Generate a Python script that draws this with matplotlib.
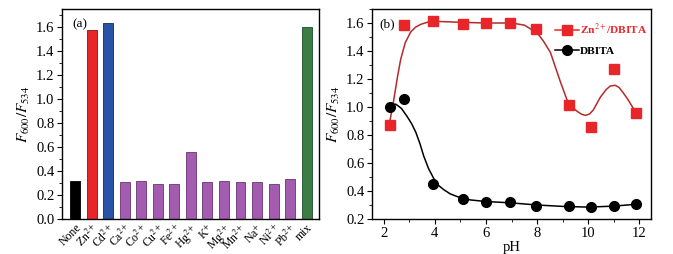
import numpy as np
import matplotlib.pyplot as plt
from matplotlib.ticker import MultipleLocator

plt.rcParams['font.family'] = ['Liberation Serif', 'DejaVu Serif']
plt.rcParams['mathtext.fontset'] = 'stix'

# (a) ratio for each ion
ions = ['None', 'Zn$^{2+}$', 'Cd$^{2+}$', 'Ca$^{2+}$', 'Co$^{2+}$', 'Cu$^{2+}$',
        'Fe$^{2+}$', 'Hg$^{2+}$', 'K$^{+}$', 'Mg$^{2+}$', 'Mn$^{2+}$', 'Na$^{+}$',
        'Ni$^{2+}$', 'Pb$^{2+}$', 'mix']
ratio = [0.32, 1.575, 1.63, 0.31, 0.32, 0.295, 0.295, 0.56, 0.305, 0.315,
         0.31, 0.31, 0.29, 0.335, 1.60]

# (b) ratio vs pH
ph = [2.25, 2.8, 3.95, 5.1, 6.0, 6.95, 7.95, 9.25, 10.1, 11.0, 11.85]
zn_dbita = [0.875, 1.585, 1.615, 1.595, 1.60, 1.60, 1.555, 1.015, 0.86, 1.27, 0.96]
dbita = [1.0, 1.06, 0.45, 0.345, 0.325, 0.32, 0.295, 0.295, 0.285, 0.295, 0.305]

# smooth fit lines
fit_ph_zn = [2.25, 2.4, 2.55, 2.67, 2.85, 3.06, 3.25, 3.45, 3.7, 4.0, 5.0, 6.0,
             7.0, 7.5, 8.0, 8.25, 8.52, 8.91, 9.17, 9.4, 9.56, 9.72, 9.88, 10.05,
             10.2, 10.47, 10.7, 10.86, 11.05, 11.2, 11.37, 11.56, 11.76, 11.85]
fit_zn = [0.90, 1.05, 1.22, 1.34, 1.46, 1.535, 1.57, 1.59, 1.605, 1.612, 1.605,
          1.60, 1.60, 1.585, 1.53, 1.47, 1.39, 1.18, 1.05, 0.995, 0.97, 0.95,
          0.94, 0.95, 0.98, 1.07, 1.125, 1.15, 1.155, 1.14, 1.10, 1.05, 0.99, 0.96]
fit_ph_db = [2.2, 2.35, 2.48, 2.7, 2.93, 3.1, 3.26, 3.42, 3.57, 3.76, 3.96,
             4.15, 4.35, 4.6, 4.88, 5.4, 6.0, 7.0, 8.0, 9.0, 10.0, 11.0, 11.85]
fit_db = [1.006, 1.018, 1.02, 0.99, 0.93, 0.88, 0.82, 0.74, 0.65, 0.56, 0.49,
          0.44, 0.41, 0.38, 0.36, 0.336, 0.325, 0.315, 0.30, 0.29, 0.285, 0.292,
          0.305]

bar_colors = ['#000000', '#e8262a', '#2a52a8'] + ['#a45cb0'] * 11 + ['#3b7d45']
edge_colors = ['#000000', '#8a1010', '#14285a'] + ['#6a3475'] * 11 + ['#1f4a26']

fig = plt.figure(figsize=(6.73, 2.54), dpi=100)
ax1 = fig.add_axes([62 / 673, 35 / 254, 257 / 673, 210 / 254])
ax2 = fig.add_axes([372 / 673, 35 / 254, 279 / 673, 210 / 254])

x = np.arange(len(ions))
ax1.bar(x, ratio, width=0.6, color=bar_colors, edgecolor=edge_colors, linewidth=0.6)
ax1.set_xlim(-0.8, 14.75)
ax1.set_ylim(0, 1.75)
ax1.set_xticks(x)
ax1.set_xticklabels(ions, rotation=45, ha='right', rotation_mode='anchor', fontsize=8.5)
ax1.tick_params(axis='x', length=0, pad=2)
ax1.yaxis.set_major_locator(MultipleLocator(0.2))
ax1.yaxis.set_minor_locator(MultipleLocator(0.1))
ax1.yaxis.set_major_formatter(plt.FormatStrFormatter('%.1f'))
ax1.tick_params(axis='y', which='major', direction='out', length=3.5, labelsize=10.5, pad=2)
ax1.tick_params(axis='y', which='minor', direction='out', length=2)
ax1.set_ylabel('$F_{600}/F_{534}$', fontsize=11, labelpad=3)
ax1.text(0.04, 0.955, '(a)', transform=ax1.transAxes, fontsize=9.5, va='top')

ax2.plot(fit_ph_zn, fit_zn, color='#b52a2a', linewidth=1.1, zorder=2)
ax2.plot(fit_ph_db, fit_db, color='#000000', linewidth=1.1, zorder=2)
ax2.plot(ph, zn_dbita, 's', color='#e8262a', markersize=7, zorder=3)
ax2.plot(ph, dbita, 'o', color='#000000', markersize=7, zorder=3)
ax2.set_xlim(1.55, 12.45)
ax2.set_ylim(0.2, 1.7)
ax2.xaxis.set_major_locator(MultipleLocator(2))
ax2.xaxis.set_minor_locator(MultipleLocator(1))
ax2.yaxis.set_major_locator(MultipleLocator(0.2))
ax2.yaxis.set_minor_locator(MultipleLocator(0.1))
ax2.yaxis.set_major_formatter(plt.FormatStrFormatter('%.1f'))
ax2.tick_params(which='major', direction='out', length=3.5, labelsize=10.5, pad=2)
ax2.tick_params(which='minor', direction='out', length=2)
ax2.set_xlabel('pH', fontsize=10.5, labelpad=1)
ax2.set_ylabel('$F_{600}/F_{534}$', fontsize=11, labelpad=3)
ax2.text(0.025, 0.955, '(b)', transform=ax2.transAxes, fontsize=9.5, va='top')

# legend drawn as in the original
h1, = ax2.plot([], [], 's-', color='#e8262a', markersize=7, linewidth=1.1)
h2, = ax2.plot([], [], 'o-', color='#000000', markersize=7, linewidth=1.1)
leg = ax2.legend([h1, h2], ['Zn$^{2+}$/DBITA', 'DBITA'], loc='upper left',
                 bbox_to_anchor=(0.655, 0.94), frameon=False, handlelength=2.1,
                 handletextpad=0.1, labelspacing=0.8, borderaxespad=0.0,
                 borderpad=0.0, prop={'weight': 'bold', 'size': 8.2})
leg.get_texts()[0].set_color('#e8262a')

for ax in (ax1, ax2):
    for s in ax.spines.values():
        s.set_linewidth(1.0)

fig.savefig('out.png', dpi=100, facecolor='white')
